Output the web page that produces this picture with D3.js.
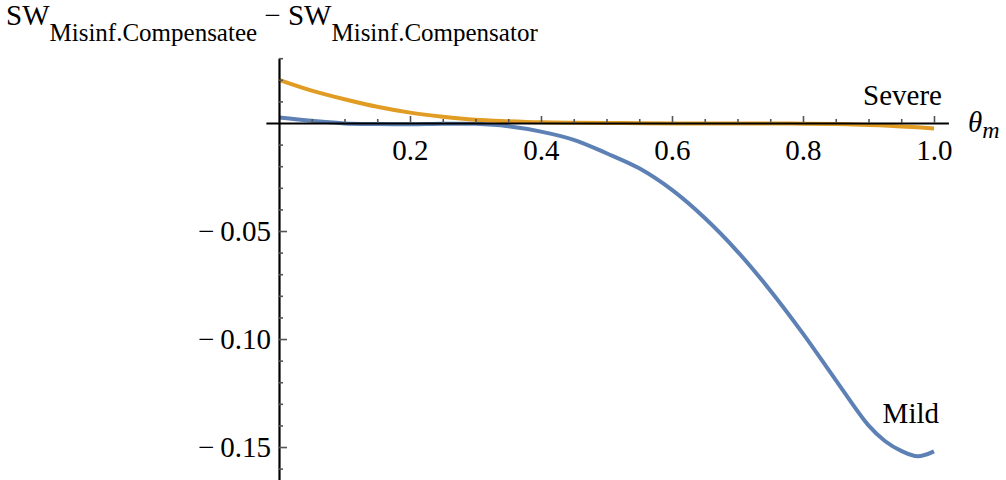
<!DOCTYPE html>
<meta charset="utf-8">
<body style="margin:0; background:#fff">
  <div id="chart"></div>
  <script src="https://cdn.jsdelivr.net/npm/d3@7"></script>
  <script>
    // theta_m sample points and curve values
    var theta  = [0, 0.05, 0.1, 0.15, 0.2, 0.25, 0.3, 0.35, 0.4, 0.45, 0.5, 0.55, 0.6, 0.65, 0.7, 0.75, 0.8, 0.85, 0.9, 0.925, 0.95, 0.975, 1.0];
    var mild   = [0.0025, 0.0010, -0.0002, -0.0005, -0.0006, -0.0004, -0.0004, -0.0015, -0.0040, -0.0078, -0.0140, -0.0210, -0.0310, -0.0440, -0.0595, -0.0775, -0.0975, -0.1190, -0.1400, -0.1472, -0.1518, -0.1543, -0.1520];
    var severe = [0.0200, 0.0150, 0.0110, 0.0075, 0.0048, 0.0029, 0.0015, 0.0008, 0.0003, 0.0001, 0.0000, -0.0001, -0.0002, -0.0002, -0.0002, -0.0002, -0.0003, -0.0005, -0.0009, -0.0012, -0.0016, -0.0020, -0.0025];

    var xMajor = [0.2, 0.4, 0.6, 0.8, 1.0];
    var xMinor = [0.05, 0.1, 0.15, 0.25, 0.3, 0.35, 0.45, 0.5, 0.55, 0.65, 0.7, 0.75, 0.85, 0.9, 0.95];
    var yMajor = [-0.05, -0.10, -0.15];
    var yMinor = [0.03, 0.02, 0.01, -0.01, -0.02, -0.03, -0.04, -0.06, -0.07, -0.08, -0.09, -0.11, -0.12, -0.13, -0.14, -0.16];

    var width = 1006, height = 480;
    var FONT = "Liberation Serif";

    var svg = d3.select("#chart").append("svg")
        .attr("width", width)
        .attr("height", height);

    // scales (domain runs a little past the plotted range, like the axes do)
    var x = d3.scaleLinear().domain([-0.02, 1.022]).range([265.9, 948.4]);
    var y = d3.scaleLinear().domain([0.03, -0.166]).range([58.2, 481.6]);

    var line = d3.line()
        .x(function(d, i){ return x(theta[i]); })
        .y(function(d){ return y(d); })
        .curve(d3.curveCatmullRom.alpha(0.5));

    // curves
    svg.append("path").datum(mild)
        .attr("d", line)
        .attr("fill", "none")
        .attr("stroke", "#5E81B5")
        .attr("stroke-width", 4);

    svg.append("path").datum(severe)
        .attr("d", line)
        .attr("fill", "none")
        .attr("stroke", "#E19C24")
        .attr("stroke-width", 4);

    function styleAxis(g, len) {
        g.attr("font-family", FONT).attr("font-size", 29);
        g.selectAll(".domain").attr("stroke", "#000").attr("stroke-width", 2.2);
        g.selectAll(".tick line").attr("stroke", "#555").attr("stroke-width", 1.6);
        g.selectAll(".tick text").attr("fill", "#000")
            .attr("font-family", FONT).style("font-family", FONT);
    }

    // x axis: ticks point up into the plot
    var xg = svg.append("g").attr("transform", "translate(0," + y(0) + ")")
        .call(d3.axisBottom(x).tickValues(xMajor).tickSizeInner(-7).tickSizeOuter(0)
            .tickPadding(16).tickFormat(d3.format(".1f")));
    styleAxis(xg);
    xg.selectAll(".tick text").attr("dy", "0.71em");
    var xm = svg.append("g").attr("transform", "translate(0," + y(0) + ")")
        .call(d3.axisBottom(x).tickValues(xMinor).tickSizeInner(-4).tickSizeOuter(0).tickFormat(""));
    xm.select(".domain").remove();
    styleAxis(xm);

    // y axis: ticks point right
    var yg = svg.append("g").attr("transform", "translate(" + x(0) + ",0)")
        .call(d3.axisLeft(y).tickValues(yMajor).tickSizeInner(-8).tickSizeOuter(0)
            .tickPadding(8).tickFormat(function(d){ return "\u2212\u2009" + d3.format(".2f")(-d); }));
    styleAxis(yg);
    yg.selectAll(".tick text").attr("dy", "0.34em");
    var ym = svg.append("g").attr("transform", "translate(" + x(0) + ",0)")
        .call(d3.axisLeft(y).tickValues(yMinor).tickSizeInner(-4).tickSizeOuter(0).tickFormat(""));
    ym.select(".domain").remove();
    styleAxis(ym);

    // curve labels
    svg.append("text").attr("x", 942).attr("y", 105).attr("text-anchor", "end")
        .attr("font-family", FONT).style("font-family", FONT).attr("font-size", 29).text("Severe");
    svg.append("text").attr("x", 939).attr("y", 423).attr("text-anchor", "end")
        .attr("font-family", FONT).style("font-family", FONT).attr("font-size", 29).text("Mild");

    // axis label theta_m
    var xl = svg.append("text").attr("x", 968).attr("y", 132)
        .attr("font-family", FONT).style("font-family", FONT)
        .attr("font-size", 29).attr("font-style", "italic");
    xl.append("tspan").text("\u03B8");
    xl.append("tspan").attr("font-size", 24).attr("dy", 6).text("m");

    // title
    var t = svg.append("text").attr("x", 6).attr("y", 25)
        .attr("font-family", FONT).style("font-family", FONT).attr("font-size", 29);
    t.append("tspan").text("SW");
    t.append("tspan").attr("font-size", 25).attr("dy", 16).text("Misinf.Compensatee");
    t.append("tspan").attr("dy", -16).text(" \u2212 SW");
    t.append("tspan").attr("font-size", 25).attr("dy", 16).text("Misinf.Compensator");
  </script>
</body>
